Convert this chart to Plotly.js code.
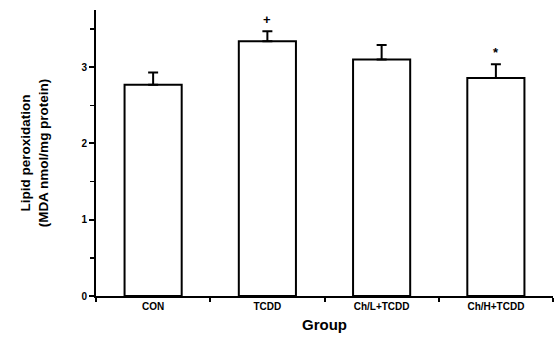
<!DOCTYPE html>
<html>
<head>
<meta charset="utf-8">
<script src="https://cdn.plot.ly/plotly-3.0.1.min.js"></script>
<style>html,body{margin:0;padding:0;background:#fff;} #chart{width:560px;height:340px;}</style>
</head>
<body>
<div id="chart"></div>
<script>
const groups = ["CON", "TCDD", "Ch/L+TCDD", "Ch/H+TCDD"];
const meanValues = [2.77, 3.34, 3.10, 2.86];
const errorValues = [0.16, 0.13, 0.19, 0.18];
const significance = ["", "+", "", "*"];
const yTickValues = [0, 1, 2, 3];

const trace = {
  type: "bar",
  x: groups,
  y: meanValues,
  width: 0.5,
  marker: {color: "#ffffff", line: {color: "#000000", width: 2}},
  error_y: {
    type: "data",
    symmetric: false,
    array: errorValues,
    arrayminus: errorValues.map(() => 0),
    color: "#000000",
    thickness: 2,
    width: 5
  },
  hoverinfo: "none"
};

const annotations = groups.map((g, i) => ({
  x: g,
  y: meanValues[i] + errorValues[i],
  yshift: 12,
  text: significance[i],
  showarrow: false,
  font: {family: "Liberation Sans", size: 13, color: "#000", weight: "bold"}
})).filter(a => a.text !== "");

const layout = {
  width: 560,
  height: 340,
  margin: {l: 96, r: 7, t: 10, b: 44},
  paper_bgcolor: "#ffffff",
  plot_bgcolor: "#ffffff",
  showlegend: false,
  font: {family: "Liberation Sans", color: "#000"},
  xaxis: {
    type: "category",
    range: [-0.5, 3.5],
    showline: true,
    linecolor: "#000",
    linewidth: 2,
    showgrid: false,
    zeroline: false,
    ticks: "outside",
    tickson: "boundaries",
    ticklen: 4,
    tickwidth: 2,
    tickcolor: "#000",
    tickfont: {family: "Liberation Sans", size: 10, weight: "bold"},
    title: {text: "Group", font: {family: "Liberation Sans", size: 15, weight: "bold"}, standoff: 8}
  },
  yaxis: {
    range: [0, 3.75],
    showline: true,
    linecolor: "#000",
    linewidth: 2,
    showgrid: false,
    zeroline: false,
    tickvals: yTickValues,
    ticks: "outside",
    ticklen: 5,
    tickwidth: 2,
    tickcolor: "#000",
    minor: {dtick: 0.5, ticks: "outside", ticklen: 4, tickwidth: 1.5, tickcolor: "#000", showgrid: false},
    tickfont: {family: "Liberation Sans", size: 10, weight: "bold"},
    title: {text: "Lipid peroxidation<br>(MDA nmol/mg protein)", font: {family: "Liberation Sans", size: 13.5, weight: "bold"}, standoff: 30}
  },
  annotations: annotations
};

Plotly.newPlot("chart", [trace], layout, {staticPlot: true, displayModeBar: false});
</script>
</body>
</html>
